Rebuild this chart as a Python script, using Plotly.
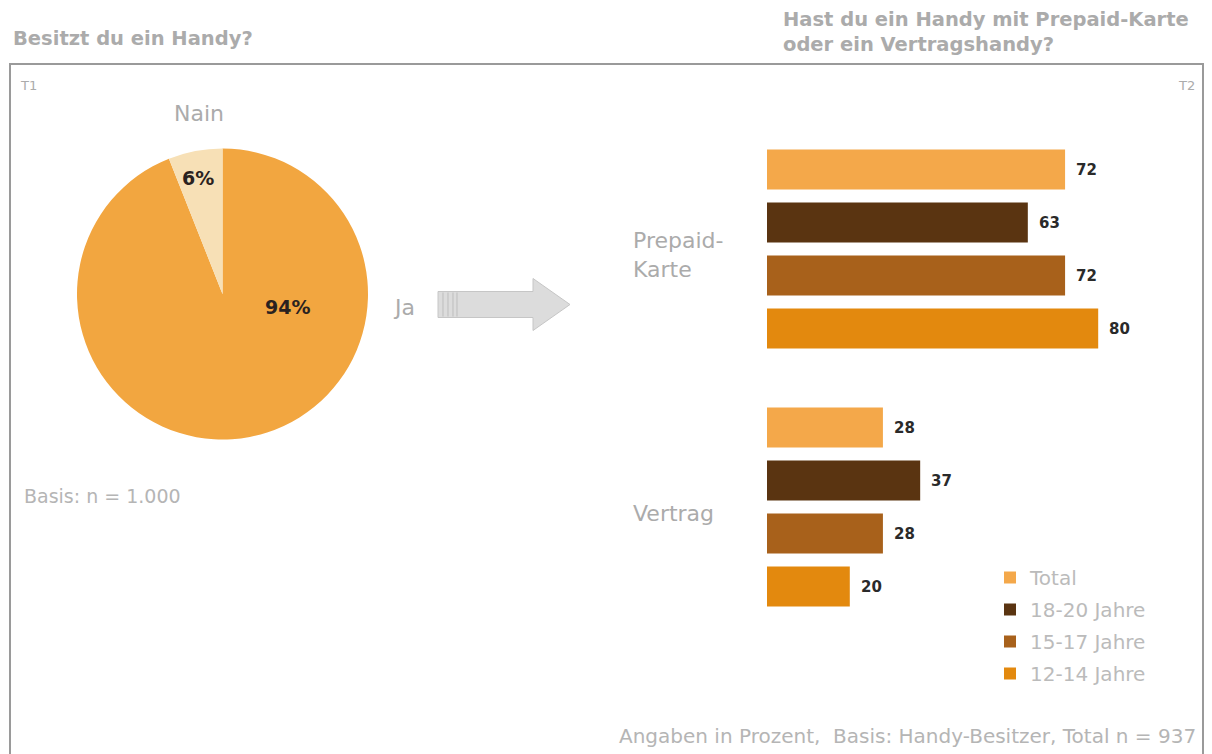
import plotly.graph_objects as go

W, H = 1212, 754

# ---------------- data ----------------
pie_labels = ["Ja", "Nain"]
pie_values = [94, 6]
pie_colors = ["#F2A640", "#F7E0B6"]

groups = ["Prepaid-Karte", "Vertrag"]
group_labels = ["Prepaid-<br>Karte", "Vertrag"]
series_names = ["Total", "18-20 Jahre", "15-17 Jahre", "12-14 Jahre"]
series_values = {
    "Total":       [72, 28],
    "18-20 Jahre": [63, 37],
    "15-17 Jahre": [72, 28],
    "12-14 Jahre": [80, 20],
}
series_colors = ["#F4A84A", "#5A3411", "#A8611B", "#E3890E"]

GROUP_STEP = 4.87   # layout spacing between groups (in bar slots)
GRAY = "#ABABAB"
FONT = "DejaVu Sans"


def px_x(x):
    return x / W


def px_y(y):
    return 1 - y / H


def note(x, y, text, size, color=GRAY, xanchor="center", align="left", **kw):
    fig.add_annotation(x=px_x(x), y=px_y(y), xref="paper", yref="paper", text=text,
                       showarrow=False, xanchor=xanchor, yanchor="middle", align=align,
                       font=dict(size=size, color=color, family=FONT), **kw)


fig = go.Figure()

# ---------------- pie ----------------
fig.add_trace(go.Pie(
    labels=pie_labels, values=pie_values, sort=False, direction="clockwise",
    rotation=0, marker=dict(colors=pie_colors, line=dict(width=0)),
    textinfo="none", hoverinfo="label+percent", showlegend=False,
    domain=dict(x=[px_x(77), px_x(368)], y=[px_y(442), px_y(146)]),
))

# ---------------- bars ----------------
for s, name in enumerate(series_names):
    ys = [g * GROUP_STEP + s for g in range(len(groups))]
    fig.add_trace(go.Bar(
        x=series_values[name], y=ys, orientation="h", name=name,
        marker=dict(color=series_colors[s], line=dict(width=0)), width=0.755,
        legendgroup=name, showlegend=True, xaxis="x", yaxis="y",
    ))
    for v, yy in zip(series_values[name], ys):
        fig.add_annotation(x=v, y=yy, xref="x", yref="y", text=f"<b>{v}</b>",
                           showarrow=False, xanchor="left", yanchor="middle", xshift=9,
                           font=dict(size=15, color="#2A2A2A", family=FONT))

top_val = -(169.5 - 116) / 53
fig.update_layout(
    xaxis=dict(domain=[px_x(767), px_x(1181)], range=[0, 100], visible=False, fixedrange=True),
    yaxis=dict(domain=[px_y(640), px_y(116)], range=[top_val + 524 / 53, top_val],
               visible=False, fixedrange=True),
)

# group labels
for g, lab in enumerate(group_labels):
    center = g * GROUP_STEP + 1.5
    fig.add_annotation(x=px_x(631), y=center, xref="paper", yref="y", text=lab,
                       showarrow=False, xanchor="left", yanchor="middle", align="left",
                       yshift=-6, font=dict(size=22, color=GRAY, family=FONT))

# pie labels
note(198, 178, f"<b>{pie_values[1]}%</b>", 19, color="#2A2220")
note(287, 307, f"<b>{pie_values[0]}%</b>", 19, color="#2A2220")
note(199, 113, pie_labels[1], 22)
note(404, 307, pie_labels[0], 22)

# titles & notes
note(11, 39, "<b>Besitzt du ein Handy?</b>", 19.5, xanchor="left")
note(781, 32, "<b>Hast du ein Handy mit Prepaid-Karte<br>oder ein Vertragshandy?</b>", 19.5,
     xanchor="left")
note(18, 86, "T1", 13, xanchor="left")
note(1197, 86, "T2", 13, xanchor="right")
note(22, 496, "Basis: n = 1.000", 19, color="#B5B5B5", xanchor="left")
note(1198, 736, "Angaben in Prozent,  Basis: Handy-Besitzer, Total n = 937", 20,
     color="#B5B5B5", xanchor="right")

# frame
shapes = [dict(type="rect", xref="paper", yref="paper", x0=px_x(10), x1=px_x(1203),
               y0=px_y(770), y1=px_y(64), line=dict(color="#9A9A9A", width=2), layer="below")]

# arrow
cy = 304.5
path_pts = [(438, cy - 13), (533, cy - 13), (533, cy - 26), (570, cy), (533, cy + 26),
            (533, cy + 13), (438, cy + 13)]
path = "M " + " L ".join(f"{px_x(x):.5f},{px_y(y):.5f}" for x, y in path_pts) + " Z"
shapes.append(dict(type="path", xref="paper", yref="paper", path=path,
                   fillcolor="#DCDCDC", line=dict(color="#C6C6C6", width=1)))
for sx in [443, 448, 453, 457]:
    shapes.append(dict(type="line", xref="paper", yref="paper", x0=px_x(sx), x1=px_x(sx),
                       y0=px_y(cy - 12), y1=px_y(cy + 12), line=dict(color="#BDBDBD", width=1)))

fig.update_layout(
    width=W, height=H, margin=dict(l=0, r=0, t=0, b=0),
    paper_bgcolor="white", plot_bgcolor="white",
    shapes=shapes, barmode="overlay",
    font=dict(family=FONT, color=GRAY),
    legend=dict(x=px_x(990), y=px_y(558), xanchor="left", yanchor="top",
                font=dict(size=20, color="#BBBBBB", family=FONT),
                traceorder="grouped", tracegroupgap=3, bgcolor="rgba(0,0,0,0)",
                itemclick=False, itemdoubleclick=False),
)

fig.write_html("out.html")
